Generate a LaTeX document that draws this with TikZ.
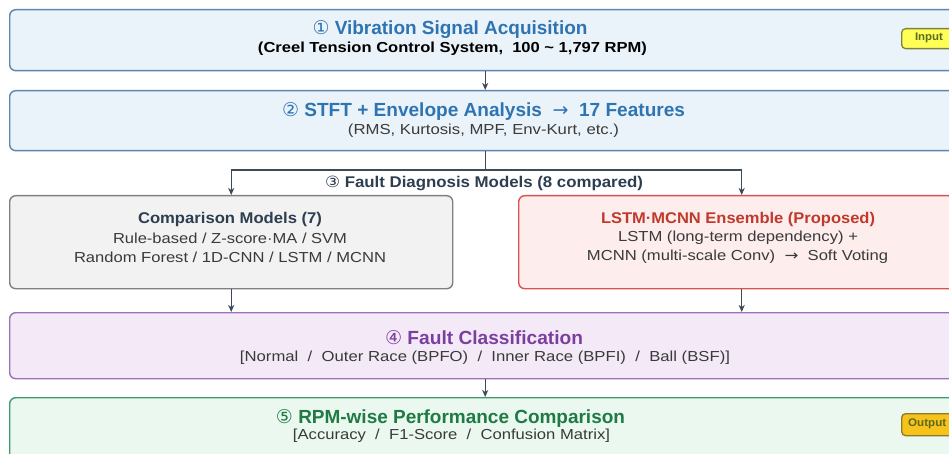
\documentclass[tikz,border=0pt]{standalone}
\usepackage{fontspec}
\setmainfont{Liberation Sans}
\newfontfamily\symf{DejaVu Sans}
\usetikzlibrary{arrows.meta}
\newcommand{\fw}[2]{\resizebox{#1pt}{\height}{#2}}
\newcommand{\cnum}[1]{{\symf\mdseries #1}}
\definecolor{bFill}{HTML}{EBF3FA}
\definecolor{bLine}{HTML}{5B87B0}
\definecolor{bText}{HTML}{2F74B2}
\definecolor{gFill}{HTML}{F2F2F2}
\definecolor{gLine}{HTML}{808080}
\definecolor{rFill}{HTML}{FDEDED}
\definecolor{rLine}{HTML}{D9534F}
\definecolor{rText}{HTML}{C0392B}
\definecolor{pFill}{HTML}{F4EAF7}
\definecolor{pLine}{HTML}{9B72B8}
\definecolor{pText}{HTML}{7B3FA0}
\definecolor{nFill}{HTML}{EAF8F0}
\definecolor{nLine}{HTML}{3E9B6B}
\definecolor{nText}{HTML}{1F7A44}
\definecolor{dark}{HTML}{2C3E50}
\definecolor{body}{HTML}{3A3A3A}
\definecolor{arrc}{HTML}{3D4A57}
\definecolor{inFill}{HTML}{FFFF55}
\definecolor{inLine}{HTML}{80803A}
\definecolor{outFill}{HTML}{F7C31A}
\definecolor{outLine}{HTML}{8A7A2A}
\definecolor{badgeText}{HTML}{5A6A20}
\tikzset{
  stage/.style={draw, rounded corners=6pt, line width=1.4pt, anchor=north west, inner sep=0pt},
  bluebox/.style={stage, draw=bLine, fill=bFill},
  graybox/.style={stage, draw=gLine, fill=gFill},
  redbox/.style={stage, draw=rLine, fill=rFill},
  purplebox/.style={stage, draw=pLine, fill=pFill},
  greenbox/.style={stage, draw=nLine, fill=nFill},
  badge/.style={draw, rounded corners=4pt, line width=1.3pt, anchor=north west, inner sep=0pt},
  badgetxt/.style={inner sep=0pt, text=badgeText, font=\bfseries\fontsize{11}{13}\selectfont},
  txt/.style={inner sep=0pt, anchor=center},
  title/.style={txt, font=\bfseries\fontsize{19}{21}\selectfont},
  sub/.style={txt, font=\fontsize{14.5}{16}\selectfont, text=body},
  mtitle/.style={txt, font=\bfseries\fontsize{15.5}{17}\selectfont},
  conn/.style={draw=arrc, line width=1.3pt},
  arr/.style={conn, -{Stealth[length=7pt,width=6pt,inset=2pt]}},
}
\begin{document}
\begin{tikzpicture}[x=1pt,y=-1pt]
\useasboundingbox (0,0) rectangle (949,454);
\fill[white] (0,0) rectangle (949,454);
\begin{scope}
\clip (0,0) rectangle (949,454);
% boxes
\node[bluebox, minimum width=951pt, minimum height=61pt] (b1) at (9,9) {};
\node[bluebox, minimum width=951pt, minimum height=60pt] (b2) at (9,90) {};
\node[graybox, minimum width=443pt, minimum height=93pt] (cmp) at (9,195) {};
\node[redbox, minimum width=446pt, minimum height=93pt] (ens) at (518,195) {};
\node[purplebox, minimum width=951pt, minimum height=66pt] (b4) at (9,312) {};
\node[greenbox, minimum width=951pt, minimum height=80pt] (b5) at (9,397) {};
% badges
\node[badge, fill=inFill, draw=inLine, minimum width=58pt, minimum height=20pt] (inb) at (901,28) {};
\node[badgetxt] (inl) at (929,38) {\fw{28}{Input}};
\node[badge, fill=outFill, draw=outLine, minimum width=58pt, minimum height=22pt] (outb) at (901,413) {};
\node[badgetxt, anchor=west] (outl) at (908,424) {\fw{38}{Output}};
% texts stage 1
\node[title, text=bText] (t1) at (450,30) {\fw{275}{\cnum{①} Vibration Signal Acquisition}};
\node[sub, font=\bfseries\fontsize{14.5}{16}\selectfont, text=black] (s1) at (452.5,49) {\fw{389}{(Creel Tension Control System,\ \ 100 \textasciitilde\ 1,797 RPM)}};
% stage 2
\node[title, text=bText] (t2) at (483.5,111) {\fw{403}{\cnum{②} STFT + Envelope Analysis \ \cnum{→}\ \ 17 Features}};
\node[sub] (s2) at (483.5,131) {\fw{271}{(RMS, Kurtosis, MPF, Env-Kurt, etc.)}};
% stage 3 label
\node[mtitle, text=dark] (l3) at (484,183) {\fw{318}{\cnum{③} Fault Diagnosis Models (8 compared)}};
% comparison box
\node[mtitle, text=dark] (c1) at (230,219) {\fw{184}{Comparison Models (7)}};
\node[sub] (c2) at (230,238) {\fw{234}{Rule-based / Z-score·MA / SVM}};
\node[sub] (c3) at (230,257) {\fw{312}{Random Forest / 1D-CNN / LSTM / MCNN}};
% ensemble box
\node[mtitle, text=rText] (e1) at (738,219) {\fw{274}{LSTM·MCNN Ensemble (Proposed)}};
\node[sub] (e2) at (738,238) {\fw{240}{LSTM (long-term dependency) +}};
\node[sub] (e3) at (737.5,257) {\fw{301}{MCNN (multi-scale Conv) \ \cnum{→}\ \ Soft Voting}};
% stage 4
\node[title, text=pText] (t4) at (484,338) {\fw{198}{\cnum{④} Fault Classification}};
\node[sub] (s4) at (485,358) {\fw{490}{[Normal\ \ /\ \ Outer Race (BPFO)\ \ /\ \ Inner Race (BPFI)\ \ /\ \ Ball (BSF)]}};
% stage 5
\node[title, text=nText] (t5) at (450.5,418) {\fw{349}{\cnum{⑤} RPM-wise Performance Comparison}};
\node[sub] (s5) at (451.5,436) {\fw{317}{[Accuracy\ \ /\ \ F1-Score\ \ /\ \ Confusion Matrix]}};
% connectors
\coordinate (split) at (b2.south |- 0,170);
\draw[arr] (b1.south) -- (b2.north);
\draw[conn] (b2.south) -- (split);
\draw[arr] (split) -| (cmp.north);
\draw[arr] (split) -| (ens.north);
\draw[arr] (cmp.south) -- (cmp.south |- b4.north);
\draw[arr] (ens.south) -- (ens.south |- b4.north);
\draw[arr] (b4.south) -- (b5.north);
\end{scope}
\end{tikzpicture}
\end{document}
